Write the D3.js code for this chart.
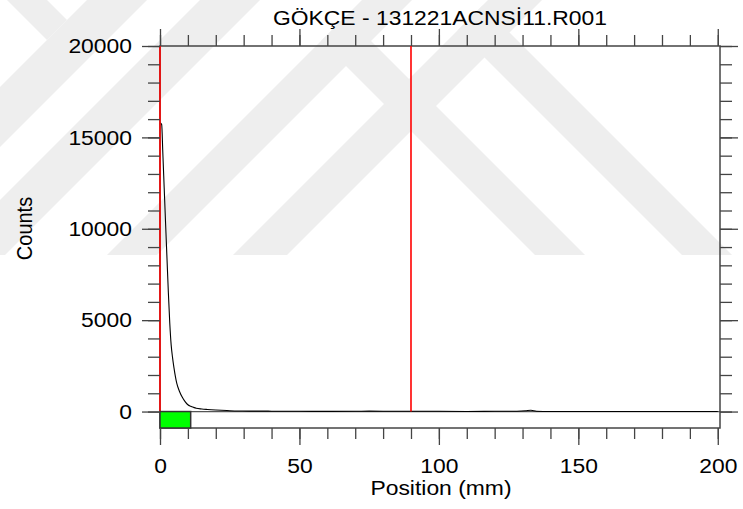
<!DOCTYPE html>
<html>
<head>
<meta charset="utf-8">
<script src="https://cdn.jsdelivr.net/npm/d3@7"></script>
<style>
  body { margin: 0; background: #fff; }
  text { font-family: "Liberation Sans", Arial, sans-serif; fill: #000; }
</style>
</head>
<body>
<svg id="chart" width="743" height="509"></svg>
<script>
// ---- data ----
var positions = [0, 0.6, 1, 1.5, 2, 2.5, 3, 3.5, 4, 4.5, 5, 6, 7, 8, 9, 10, 11, 12, 13, 15, 17, 20, 24, 28,
                 32, 40, 50, 60, 70, 75, 80, 90, 100, 110, 120, 128, 131, 133, 135, 140, 160, 180, 200];
var counts    = [15800, 15700, 14200, 12250, 10300, 8400, 6500, 4850, 3650, 2950, 2400, 1550, 1100, 780, 540, 370, 290, 230, 180, 140, 115, 85, 55, 30,
                 25, 20, 15, 10, 15, 25, 20, 20, 15, 5, 15, 20, 40, 70, 20, 5, 0, 0, 0];
var markerLines = [0, 90];          // red vertical markers (mm)
var regionRange = [0, 11];          // green region on the baseline (mm)
var xTicks = [0, 50, 100, 150, 200];
var yTicks = [0, 5000, 10000, 15000, 20000];
var titleText = "GÖKÇE - 131221ACNSİ11.R001";
var xTitle = "Position (mm)";
var yTitle = "Counts";

// background watermark bands (x+y and x-y ranges)
var slashBands = [[87, 147], [200, 260], [362, 412], [488, 542]];
var backBands = [
  { lo: 7, hi: 47, endSum: 87 },
  { lo: 280, hi: 330, startSum: 362 },
  { lo: 427, hi: 477, startSum: 488 }
];

var svg = d3.select("#chart");
var stretch = "scale(1.09,1)";
var axisColor = "#444";

var x = d3.scaleLinear().domain([0, 200.8]).range([160, 720]);
var y = d3.scaleLinear().domain([-900, 20000]).range([428, 46]);

// watermark
svg.append("clipPath").attr("id", "wmclip")
  .append("rect").attr("x", 0).attr("y", 0).attr("width", 743).attr("height", 255);
var wm = svg.append("g").attr("clip-path", "url(#wmclip)").attr("fill", "#eeeeee");
slashBands.forEach(function(b) {
  wm.append("polygon").attr("points",
    [[b[0], 0], [b[1], 0], [b[1] - 255, 255], [b[0] - 255, 255]].join(" "));
});
backBands.forEach(function(b) {
  var pts;
  if (b.startSum !== undefined) {
    var s = b.startSum;
    pts = [[(b.lo + s) / 2, (s - b.lo) / 2], [(b.hi + s) / 2, (s - b.hi) / 2], [b.hi + 255, 255], [b.lo + 255, 255]];
  } else {
    var e = b.endSum;
    pts = [[b.lo, 0], [b.hi, 0], [(b.hi + e) / 2, (e - b.hi) / 2], [(b.lo + e) / 2, (e - b.lo) / 2]];
  }
  wm.append("polygon").attr("points", pts.join(" "));
});

// zero line
svg.append("line")
  .attr("x1", x(0)).attr("x2", x(200.8))
  .attr("y1", y(0)).attr("y2", y(0))
  .attr("stroke", "#555").attr("stroke-width", 1.3);

// data curve
var line = d3.line()
  .x(function(d, i) { return x(positions[i]); })
  .y(function(d) { return y(d); })
  .curve(d3.curveMonotoneX);
svg.append("path")
  .attr("d", line(counts))
  .attr("fill", "none")
  .attr("stroke", "#000")
  .attr("stroke-width", 1.1);

// frame
svg.append("rect")
  .attr("x", x(0)).attr("y", y(20000))
  .attr("width", x(200.8) - x(0)).attr("height", y(-900) - y(20000))
  .attr("fill", "none").attr("stroke", axisColor).attr("stroke-width", 1.5);

// red markers
svg.selectAll("line.marker")
  .data(markerLines)
  .enter().append("line")
  .attr("class", "marker")
  .attr("x1", function(d) { return x(d); }).attr("x2", function(d) { return x(d); })
  .attr("y1", y(0)).attr("y2", y(20000))
  .attr("stroke", "#ff0000").attr("stroke-width", 1.6);

// green region
svg.append("rect")
  .attr("x", x(regionRange[0])).attr("y", y(0))
  .attr("width", x(regionRange[1]) - x(regionRange[0]))
  .attr("height", y(-900) - y(0))
  .attr("fill", "#00ff00").attr("stroke", "#333").attr("stroke-width", 1.5);

// axes
var xMinor = d3.range(0, 201, 10);
var yMinor = d3.range(0, 20001, 1000);

function styleAxis(g) {
  g.select(".domain").remove();
  g.selectAll(".tick line").attr("stroke", axisColor).attr("stroke-width", 1.3);
  g.selectAll(".tick text").attr("font-size", 21).attr("fill", "#000")
    .style("font-family", '"Liberation Sans", Arial, sans-serif');
}

// bottom
svg.append("g").attr("transform", "translate(0," + y(-900) + ")")
  .call(d3.axisBottom(x).tickValues(xMinor).tickSize(11).tickFormat("")).call(styleAxis);
svg.append("g").attr("transform", "translate(0," + y(-900) + ")")
  .call(d3.axisBottom(x).tickValues(xTicks).tickSize(17).tickPadding(13)).call(styleAxis)
  .selectAll(".tick text").attr("transform", stretch);

// top
svg.append("g").attr("transform", "translate(0," + y(20000) + ")")
  .call(d3.axisTop(x).tickValues(xMinor).tickSize(11).tickFormat("")).call(styleAxis);
svg.append("g").attr("transform", "translate(0," + y(20000) + ")")
  .call(d3.axisTop(x).tickValues(xTicks).tickSize(17).tickFormat("")).call(styleAxis);

// left
svg.append("g").attr("transform", "translate(" + x(0) + ",0)")
  .call(d3.axisLeft(y).tickValues(yMinor).tickSize(12).tickFormat("")).call(styleAxis);
svg.append("g").attr("transform", "translate(" + x(0) + ",0)")
  .call(d3.axisLeft(y).tickValues(yTicks).tickSize(18).tickPadding(7.7).tickFormat(d3.format("d"))).call(styleAxis)
  .selectAll(".tick text").attr("transform", stretch);

// right
svg.append("g").attr("transform", "translate(" + x(200.8) + ",0)")
  .call(d3.axisRight(y).tickValues(yMinor).tickSize(12).tickFormat("")).call(styleAxis);
svg.append("g").attr("transform", "translate(" + x(200.8) + ",0)")
  .call(d3.axisRight(y).tickValues(yTicks).tickSize(18).tickFormat("")).call(styleAxis);

// titles
svg.append("text")
  .attr("transform", "translate(440,25) " + stretch)
  .attr("text-anchor", "middle").attr("font-size", 21)
  .text(titleText);
svg.append("text")
  .attr("transform", "translate(441,495) " + stretch)
  .attr("text-anchor", "middle").attr("font-size", 21)
  .text(xTitle);
svg.append("text")
  .attr("transform", "translate(32,228.5) rotate(-90) scale(1,1.09)")
  .attr("text-anchor", "middle").attr("font-size", 20)
  .text(yTitle);
</script>
</body>
</html>
